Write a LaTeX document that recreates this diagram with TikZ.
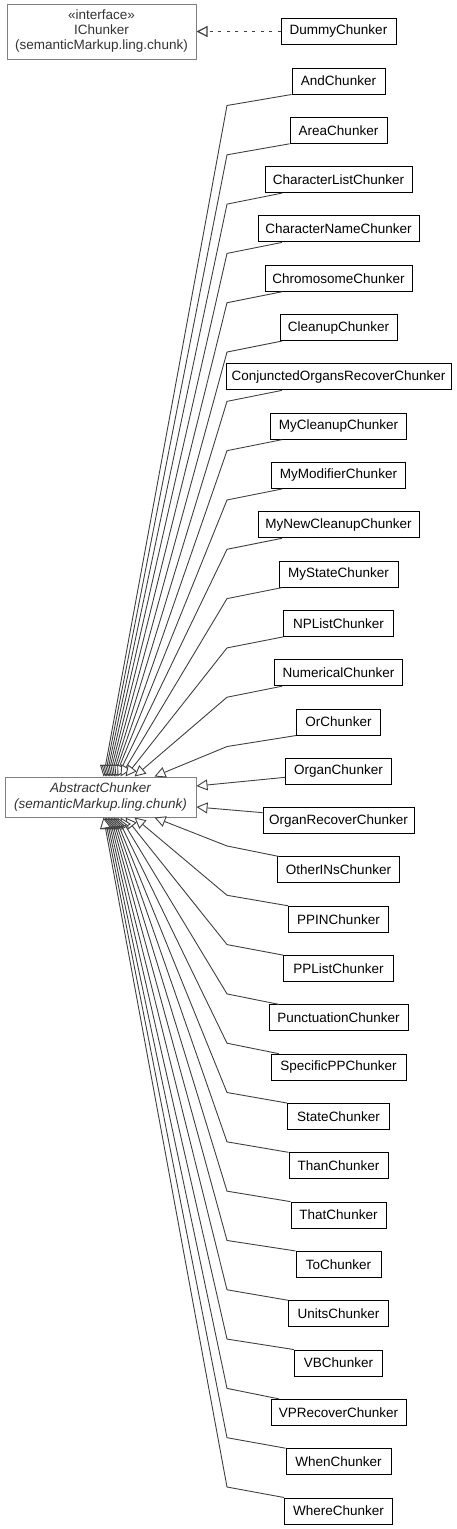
\documentclass[tikz,border=0pt]{standalone}
\usepackage{fontspec}
\setmainfont{Liberation Sans}
\usetikzlibrary{arrows.meta,calc}
\begin{document}
\begin{tikzpicture}[x=1pt,y=-1pt,
  every node/.style={font=\fontsize{13.5}{15}\selectfont},
  cls/.style={draw=black, line width=1pt, fill=white, minimum height=26pt, inner sep=0pt},
  base/.style={draw=black!50, line width=1pt, fill=white, inner sep=0pt, align=center, text=black!80},
  edge/.style={draw=black!75, line width=0.9pt, -{Triangle[open, length=11pt, width=11pt, fill=white]}},
  realize/.style={draw=black!75, line width=1.2pt, dash pattern=on 3pt off 5.5pt, -{Triangle[open, length=11pt, width=11pt, fill=white]}}]
\useasboundingbox (0,0) rectangle (456,1529);

\node[base, minimum width=189pt, minimum height=55pt] (ich) at (101.5,31.5)
  {«interface»\\IChunker\\(semanticMarkup.ling.chunk)};
\node[cls, minimum width=115pt] (dummy) at (338.5,31.5) {DummyChunker};

\foreach \name/\w [count=\k from 0] in {AndChunker/93, AreaChunker/97, CharacterListChunker/147,
  CharacterNameChunker/161, ChromosomeChunker/147, CleanupChunker/117,
  ConjunctedOrgansRecoverChunker/225, MyCleanupChunker/136, MyModifierChunker/134,
  MyNewCleanupChunker/161, MyStateChunker/119, NPListChunker/110, NumericalChunker/128,
  OrChunker/84, OrganChunker/106, OrganRecoverChunker/151, OtherINsChunker/122,
  PPINChunker/100, PPListChunker/110, PunctuationChunker/139, SpecificPPChunker/135,
  StateChunker/102, ThanChunker/99, ThatChunker/95, ToChunker/85, UnitsChunker/100,
  VBChunker/88, VPRecoverChunker/135, WhenChunker/105, WhereChunker/108} {
  \node[cls, minimum width=\w pt] (c\k) at (338.5,{81+49.31*\k}) {\name};
}

\node[base, minimum width=191pt, minimum height=40pt, font=\fontsize{13.5}{15.5}\selectfont\itshape] (abs) at (100.5,797)
  {AbstractChunker\\(semanticMarkup.ling.chunk)};

\draw[realize] (dummy.west) -- (ich.east);

\foreach \k/\tx in {0/104,1/105.5,2/107,3/108.5,4/110,5/111.5,6/113,7/114.5,8/116,9/118,10/121,11/126,12/135,13/155} {
  \draw[edge] let \p1=(c\k.south west) in ({max(\x1,282)},\y1) -- (227,{81+49.31*\k+24.5}) -- ([xshift={(\tx-5)*1pt}]abs.north west);
}
\foreach \k/\tx in {16/155,17/135,18/126,19/121,20/118,21/116,22/114.5,23/113,24/111.5,25/110,26/108.5,27/107,28/105.5,29/104} {
  \draw[edge] let \p1=(c\k.north west) in ({max(\x1,279)},\y1) -- (227,{81+49.31*\k-24}) -- ([xshift={(\tx-5)*1pt}]abs.south west);
}
\draw[edge] ([yshift=-6pt]c14.west) -- ([yshift=11pt]abs.east);
\draw[edge] ([yshift=8pt]c15.west) -- ([yshift=-10pt]abs.east);
\end{tikzpicture}
\end{document}
